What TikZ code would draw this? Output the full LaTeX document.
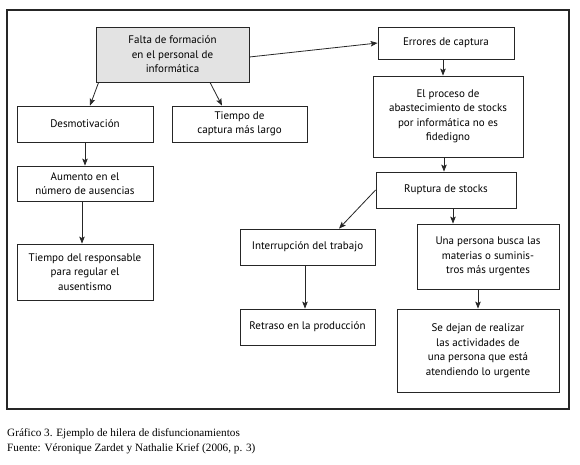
\documentclass[tikz,border=0pt]{standalone}
\usepackage{fontspec}
\setmainfont{Liberation Serif}
\newfontfamily\boxfont{PT Sans}
\usetikzlibrary{arrows.meta,calc}
\begin{document}
\begin{tikzpicture}[x=1pt,y=-1pt,
  box/.style={draw=black!85,line width=0.8pt,align=center,inner sep=2pt,
    font=\boxfont\fontsize{11}{14.5}\selectfont},
  arr/.style={draw=black!85,line width=0.8pt,-{Stealth[length=7pt,width=5.5pt,inset=1.5pt]}},
  captxt/.style={anchor=base west,inner sep=0pt,font=\fontsize{11.2}{13}\selectfont}]
\useasboundingbox (0,0) rectangle (580,464);
\draw[line width=1.2pt,black!85] (7,10) rectangle (569,409);
\node[box,fill=black!11,minimum width=153pt,minimum height=55pt] (falta) at (172.5,54.5) {Falta de formación\\en el personal de\\informática};
\node[box,minimum width=136pt,minimum height=36pt] (desmot) at (85,124) {Desmotivación};
\node[box,minimum width=135pt,minimum height=36pt] (tcap) at (239.5,124) {Tiempo de\\captura más largo};
\node[box,minimum width=136pt,minimum height=35pt] (aumento) at (85,183.5) {Aumento en el\\número de ausencias};
\node[box,minimum width=136pt,minimum height=56pt] (tresp) at (85,272) {Tiempo del responsable\\para regular el\\ausentismo};
\node[box,minimum width=136pt,minimum height=32pt] (errores) at (446,43) {Errores de captura};
\node[box,minimum width=150pt,minimum height=81pt] (proceso) at (448,116.5) {El proceso de\\abastecimiento de stocks\\por informática no es\\fidedigno};
\node[box,minimum width=140pt,minimum height=36pt] (ruptura) at (446,190) {Ruptura de stocks};
\node[box,minimum width=135pt,minimum height=36pt] (interr) at (307.5,247) {Interrupción del trabajo};
\node[box,minimum width=135pt,minimum height=36pt] (retraso) at (307.5,327) {Retraso en la producción};
\node[box,minimum width=142pt,minimum height=65pt] (persona) at (488,256.5) {Una persona busca las\\materias o suminis-\\tros más urgentes};
\node[box,minimum width=162pt,minimum height=83pt] (sedejan) at (478,350.5) {Se dejan de realizar\\las actividades de\\una persona que está\\atendiendo lo urgente};
\draw[arr] ($(falta.south west)+(3,0)$) -- ($(desmot.north)+(5,0)$);
\draw[arr] ($(falta.south)+(37.5,0)$) -- ($(tcap.north)+(-17.5,0)$);
\draw[arr] ($(falta.east)+(0,2.5)$) -- (errores.west);
\draw[arr] (desmot.south) -- (aumento.north);
\draw[arr] ($(aumento.south)+(-3,0)$) -- ($(tresp.north)+(-3,0)$);
\draw[arr] ($(errores.south)+(-3,0)$) -- ($(errores.south |- proceso.north)+(-3,0)$);
\draw[arr] ($(proceso.south)+(-4,0)$) -- ($(proceso.south |- ruptura.north)+(-4,0)$);
\draw[arr] ($(ruptura.south)+(7,0)$) -- ($(ruptura.south |- persona.north)+(7,0)$);
\draw[arr] (ruptura.west) -- ($(interr.north)+(31.5,0)$);
\draw[arr] ($(interr.south)+(-2.5,0)$) -- ($(retraso.north)+(-2.5,0)$);
\draw[arr] (sedejan.north |- persona.south) -- (sedejan.north);
\node[captxt] (cap1) at (7,436) {Gráfico 3. Ejemplo de hilera de disfuncionamientos};
\node[captxt] (cap2) at (7,451) {Fuente: Véronique Zardet y Nathalie Krief (2006, p. 3)};
\end{tikzpicture}
\end{document}
